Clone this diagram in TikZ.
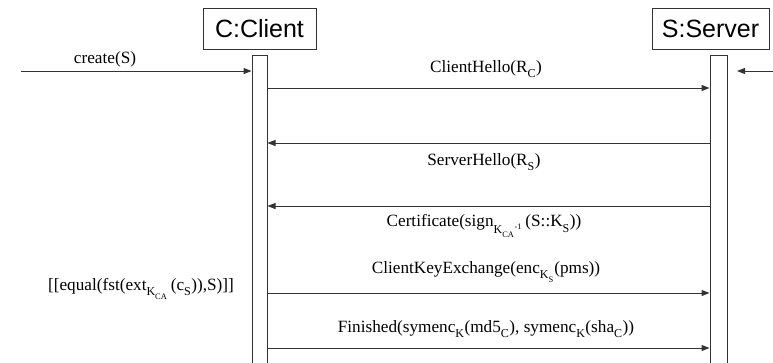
\documentclass[tikz,border=0pt]{standalone}
\usepackage{fontspec}
\setmainfont{Liberation Serif}
\newfontfamily\objfont{Liberation Sans}
\usetikzlibrary{arrows.meta}

\tikzset{
  objbox/.style={draw=black!80, line width=1pt, rectangle, inner sep=0pt,
    minimum width=113pt, minimum height=41pt,
    font=\objfont\fontsize{25}{28}\selectfont},
  actbar/.style={draw=black!80, line width=1pt, rectangle, inner sep=0pt,
    anchor=north, minimum height=330pt},
  msg/.style={draw=black!80, line width=1pt,
    -{Triangle[length=8pt,width=6pt]}},
  msglabel/.style={inner sep=0pt, font=\fontsize{17.2}{20}\selectfont},
}

% lowered subscript, a little below the usual position
\newcommand{\sbs}[1]{\raisebox{-0.15em}{\textsubscript{#1}}}

\begin{document}
\begin{tikzpicture}[x=1pt,y=-1pt]
  \useasboundingbox (0,0) rectangle (773,362);

  % lifeline heads
  \node[objbox] (cbox) at (259.5,28.5) {C:Client};
  \node[objbox, minimum width=117pt] (sbox) at (710.5,28.5) {S:Server};

  % activation bars
  \node[actbar, minimum width=15pt] (cbar) at (259.5,55) {};
  \node[actbar, minimum width=17pt] (sbar) at (718.5,55) {};

  % message rows
  \coordinate (rcreate) at (21,71);
  \coordinate (rsin) at (773,71);
  \coordinate (r1) at (0,88);
  \coordinate (r2) at (0,143);
  \coordinate (r3) at (0,206);
  \coordinate (r4) at (0,293);
  \coordinate (r5) at (0,348);

  % incoming creation messages
  \draw[msg] (rcreate) -- (rcreate -| cbar.west);
  \node[msglabel] (lcreate) at (105,59) {create(S)};
  \coordinate (sintip) at (737,71);
  \draw[msg] (rsin) -- (sintip);

  % handshake messages
  \draw[msg] (cbar.east |- r1) -- (sbar.west |- r1);
  \node[msglabel] (l1) at (486,69) {ClientHello(R\sbs{C})};

  \draw[msg] (sbar.west |- r2) -- (cbar.east |- r2);
  \node[msglabel] (l2) at (484,162) {ServerHello(R\sbs{S})};

  \draw[msg] (sbar.west |- r3) -- (cbar.east |- r3);
  \node[msglabel] (l3) at (484,226)
    {Certificate(sign\sbs{K\sbs{CA}\textsuperscript{-1}}\,(S::K\sbs{S}))};

  \draw[msg] (cbar.east |- r4) -- (sbar.west |- r4);
  \node[msglabel] (l4) at (486,272)
    {ClientKeyExchange(enc\sbs{K\sbs{S}}(pms))};
  \node[msglabel] (guard) at (141,289)
    {[[equal(fst(ext\sbs{K\sbs{CA}}\,(c\sbs{S})),S)]]};

  \draw[msg] (cbar.east |- r5) -- (sbar.west |- r5);
  \node[msglabel] (l5) at (486,329)
    {Finished(symenc\sbs{K}(md5\sbs{C}), symenc\sbs{K}(sha\sbs{C}))};
\end{tikzpicture}
\end{document}
